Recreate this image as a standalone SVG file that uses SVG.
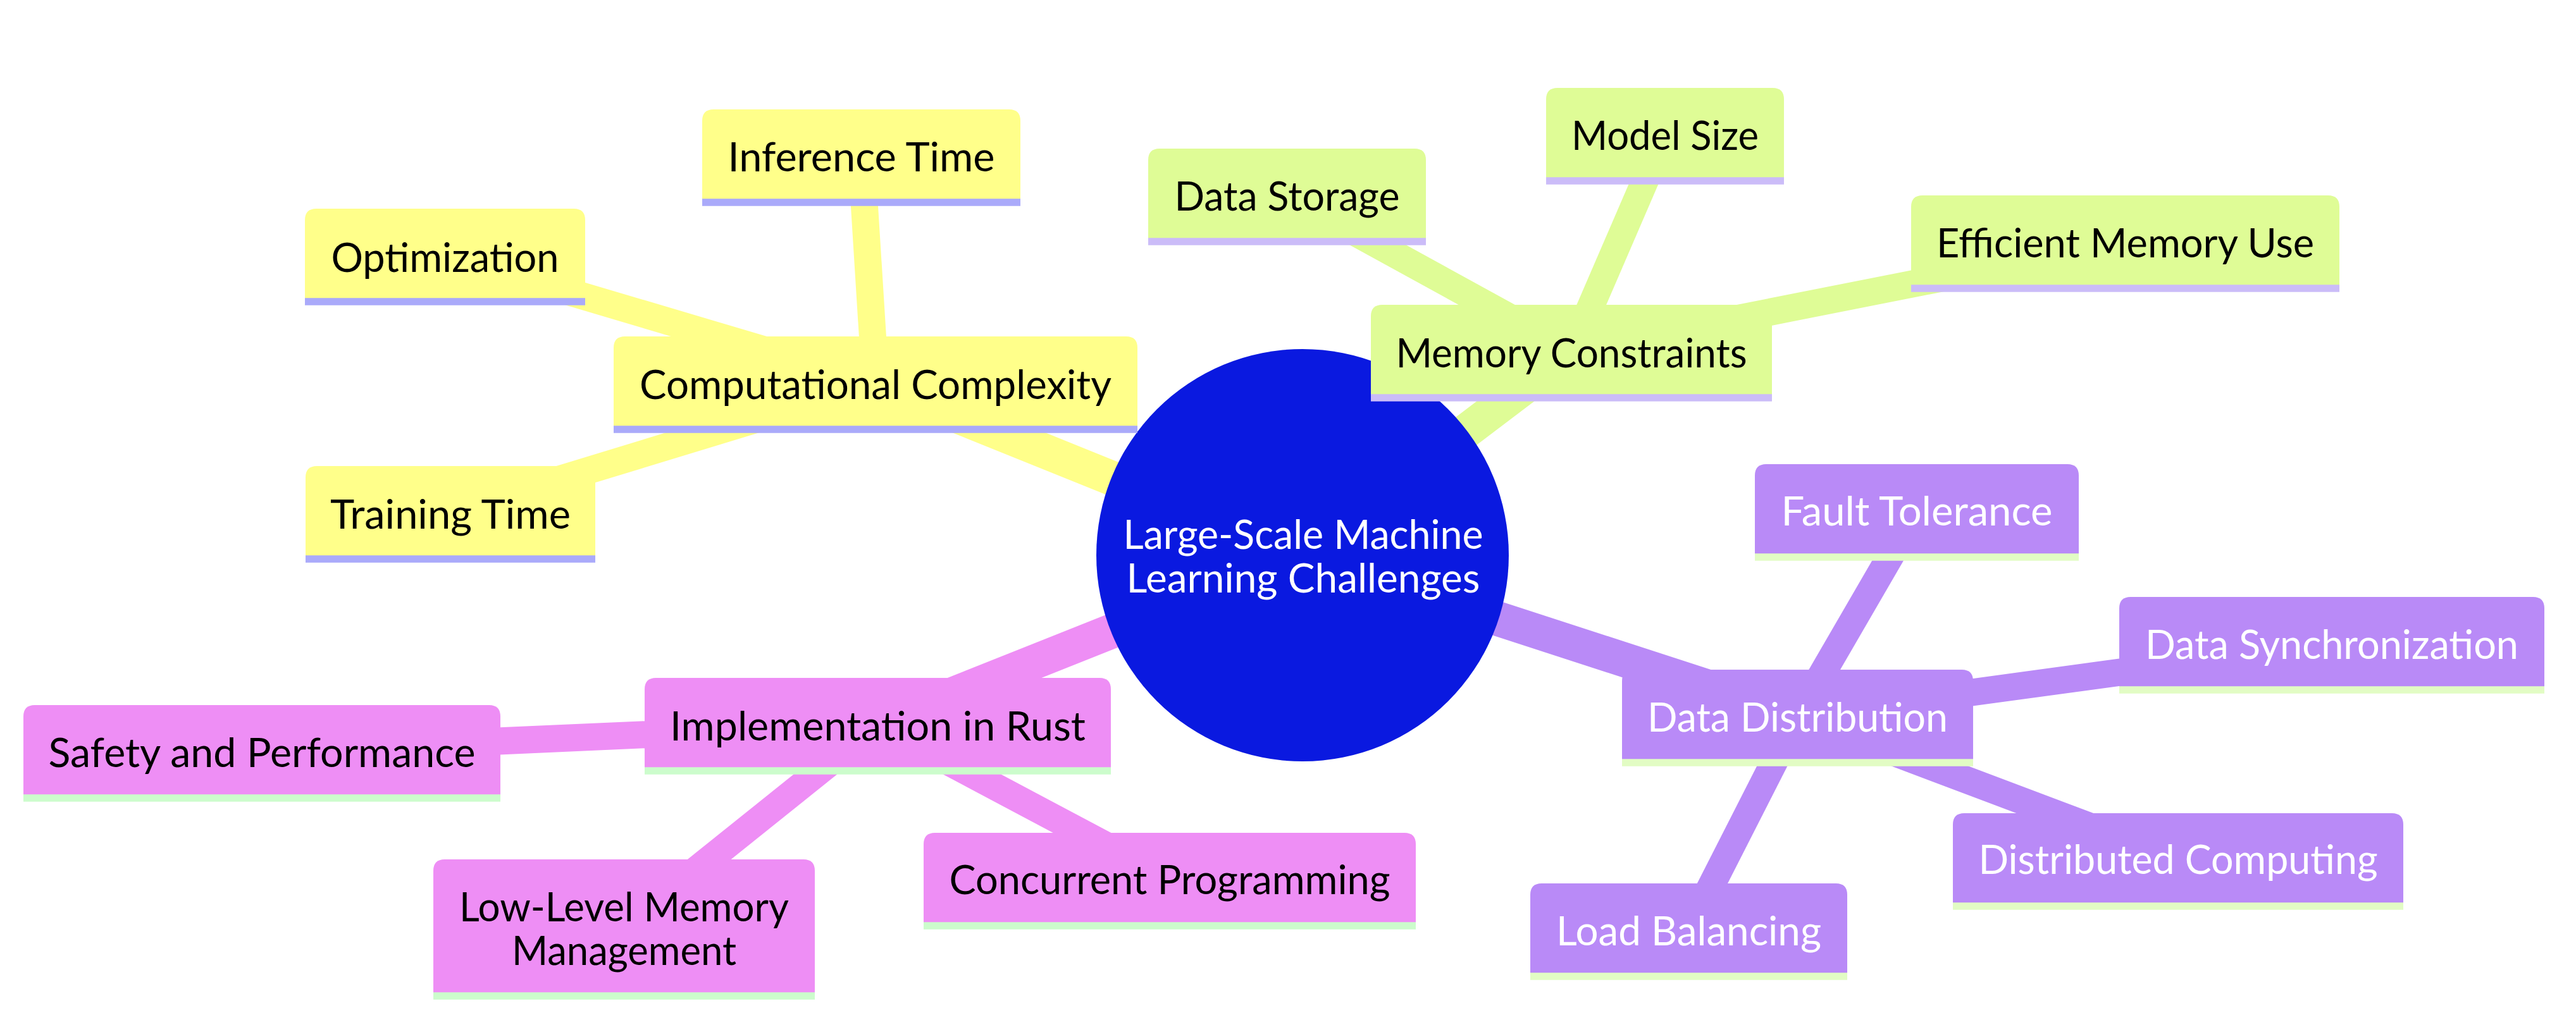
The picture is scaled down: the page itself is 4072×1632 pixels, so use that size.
<svg xmlns="http://www.w3.org/2000/svg" width="4072" height="1632" viewBox="0 0 4072 1632">
<style>
.bg{fill:#ffffff}
.e0{stroke-width:55;fill:none;stroke-linecap:butt}
.e1{stroke-width:43;fill:none;stroke-linecap:butt}
.c0{stroke:#ffff8a}.c1{stroke:#dffc96}.c2{stroke:#b98af7}.c3{stroke:#ee8ef5}
.f0{fill:#ffff8a}.f1{fill:#dffc96}.f2{fill:#b98af7}.f3{fill:#ee8ef5}
.l0{stroke:#aaaafa;stroke-width:11.6}.l1{stroke:#cbbcf8;stroke-width:11.6}.l2{stroke:#e2fcc4;stroke-width:11.6}.l3{stroke:#ccfccc;stroke-width:11.6}
text{font-family:Lato,"Open Sans","DejaVu Sans",sans-serif;font-size:63px;text-anchor:middle}
.dk{fill:#000000}.wt{fill:#ffffff}
</style>
<rect class="bg" x="0" y="0" width="4072" height="1632"/>
<g id="connectors">
  <line class="e0 c0" x1="2059" y1="878" x2="1384" y2="605.5"/>
  <line class="e0 c1" x1="2059" y1="878" x2="2484" y2="555.5"/>
  <line class="e0 c2" x1="2059" y1="878" x2="2841.5" y2="1132.5"/>
  <line class="e0 c3" x1="2059" y1="878" x2="1387.5" y2="1145.5"/>
  <line class="e1 c0" x1="1384" y1="605.5" x2="1361.5" y2="246.5"/>
  <line class="e1 c0" x1="1384" y1="605.5" x2="703.5" y2="403.5"/>
  <line class="e1 c0" x1="1384" y1="605.5" x2="712" y2="810.5"/>
  <line class="e1 c1" x1="2484" y1="555.5" x2="2632" y2="212.5"/>
  <line class="e1 c1" x1="2484" y1="555.5" x2="2034.5" y2="308.5"/>
  <line class="e1 c1" x1="2484" y1="555.5" x2="3359.5" y2="382.5"/>
  <line class="e1 c3" x1="1387.5" y1="1145.5" x2="414" y2="1188.5"/>
  <line class="e1 c3" x1="1387.5" y1="1145.5" x2="986.5" y2="1467"/>
  <line class="e1 c3" x1="1387.5" y1="1145.5" x2="1849" y2="1390.5"/>
  <line class="e1 c2" x1="2841.5" y1="1132.5" x2="3030" y2="807.5"/>
  <line class="e1 c2" x1="2841.5" y1="1132.5" x2="3686" y2="1017.5"/>
  <line class="e1 c2" x1="2841.5" y1="1132.5" x2="3443" y2="1359.5"/>
  <line class="e1 c2" x1="2841.5" y1="1132.5" x2="2669.5" y2="1470.5"/>
</g>
<g id="root">
  <circle cx="2059" cy="878" r="326" fill="#0a19e0"/>
  <text class="wt" x="2060" y="868" textLength="569" lengthAdjust="spacingAndGlyphs">Large-Scale Machine</text>
  <text class="wt" x="2060" y="937" textLength="559" lengthAdjust="spacingAndGlyphs">Learning Challenges</text>
</g>
<g id="computational-complexity">
  <path class="f0" d="M970,679 V550 Q970,532 988,532 H1780 Q1798,532 1798,550 V679 Z"/>
  <line class="l0" x1="970" y1="679" x2="1798" y2="679"/>
  <text class="dk" x="1384" y="631" textLength="746" lengthAdjust="spacingAndGlyphs">Computational Complexity</text>
</g>
<g id="inference-time">
  <path class="f0" d="M1110,320 V191 Q1110,173 1128,173 H1595 Q1613,173 1613,191 V320 Z"/>
  <line class="l0" x1="1110" y1="320" x2="1613" y2="320"/>
  <text class="dk" x="1361.5" y="271" textLength="422" lengthAdjust="spacingAndGlyphs">Inference Time</text>
</g>
<g id="optimization">
  <path class="f0" d="M482,477 V348 Q482,330 500,330 H907 Q925,330 925,348 V477 Z"/>
  <line class="l0" x1="482" y1="477" x2="925" y2="477"/>
  <text class="dk" x="703.5" y="430" textLength="360" lengthAdjust="spacingAndGlyphs">Optimization</text>
</g>
<g id="training-time">
  <path class="f0" d="M483,884 V755 Q483,737 501,737 H923 Q941,737 941,755 V884 Z"/>
  <line class="l0" x1="483" y1="884" x2="941" y2="884"/>
  <text class="dk" x="712" y="836" textLength="380" lengthAdjust="spacingAndGlyphs">Training Time</text>
</g>
<g id="memory-constraints">
  <path class="f1" d="M2167,629 V500 Q2167,482 2185,482 H2783 Q2801,482 2801,500 V629 Z"/>
  <line class="l1" x1="2167" y1="629" x2="2801" y2="629"/>
  <text class="dk" x="2484" y="581" textLength="555" lengthAdjust="spacingAndGlyphs">Memory Constraints</text>
</g>
<g id="model-size">
  <path class="f1" d="M2444,286 V157 Q2444,139 2462,139 H2802 Q2820,139 2820,157 V286 Z"/>
  <line class="l1" x1="2444" y1="286" x2="2820" y2="286"/>
  <text class="dk" x="2632" y="237" textLength="296" lengthAdjust="spacingAndGlyphs">Model Size</text>
</g>
<g id="data-storage">
  <path class="f1" d="M1815,382 V253 Q1815,235 1833,235 H2236 Q2254,235 2254,253 V382 Z"/>
  <line class="l1" x1="1815" y1="382" x2="2254" y2="382"/>
  <text class="dk" x="2034.5" y="333" textLength="356" lengthAdjust="spacingAndGlyphs">Data Storage</text>
</g>
<g id="efficient-memory-use">
  <path class="f1" d="M3021,456 V327 Q3021,309 3039,309 H3680 Q3698,309 3698,327 V456 Z"/>
  <line class="l1" x1="3021" y1="456" x2="3698" y2="456"/>
  <text class="dk" x="3359.5" y="407" textLength="597" lengthAdjust="spacingAndGlyphs">Efficient Memory Use</text>
</g>
<g id="implementation-in-rust">
  <path class="f3" d="M1019,1219 V1090 Q1019,1072 1037,1072 H1738 Q1756,1072 1756,1090 V1219 Z"/>
  <line class="l3" x1="1019" y1="1219" x2="1756" y2="1219"/>
  <text class="dk" x="1387.5" y="1171" textLength="657" lengthAdjust="spacingAndGlyphs">Implementation in Rust</text>
</g>
<g id="safety-and-performance">
  <path class="f3" d="M37,1262 V1133 Q37,1115 55,1115 H773 Q791,1115 791,1133 V1262 Z"/>
  <line class="l3" x1="37" y1="1262" x2="791" y2="1262"/>
  <text class="dk" x="414" y="1213" textLength="675" lengthAdjust="spacingAndGlyphs">Safety and Performance</text>
</g>
<g id="low-level-memory-management">
  <path class="f3" d="M685,1575 V1377 Q685,1359 703,1359 H1270 Q1288,1359 1288,1377 V1575 Z"/>
  <line class="l3" x1="685" y1="1575" x2="1288" y2="1575"/>
  <text class="dk" x="986.5" y="1457" textLength="521" lengthAdjust="spacingAndGlyphs">Low-Level Memory</text>
  <text class="dk" x="986.5" y="1526" textLength="355" lengthAdjust="spacingAndGlyphs">Management</text>
</g>
<g id="concurrent-programming">
  <path class="f3" d="M1460,1464 V1335 Q1460,1317 1478,1317 H2220 Q2238,1317 2238,1335 V1464 Z"/>
  <line class="l3" x1="1460" y1="1464" x2="2238" y2="1464"/>
  <text class="dk" x="1849" y="1414" textLength="697" lengthAdjust="spacingAndGlyphs">Concurrent Programming</text>
</g>
<g id="data-distribution">
  <path class="f2" d="M2564,1206 V1077 Q2564,1059 2582,1059 H3101 Q3119,1059 3119,1077 V1206 Z"/>
  <line class="l2" x1="2564" y1="1206" x2="3119" y2="1206"/>
  <text class="wt" x="2841.5" y="1157" textLength="475" lengthAdjust="spacingAndGlyphs">Data Distribution</text>
</g>
<g id="fault-tolerance">
  <path class="f2" d="M2774,881 V752 Q2774,734 2792,734 H3268 Q3286,734 3286,752 V881 Z"/>
  <line class="l2" x1="2774" y1="881" x2="3286" y2="881"/>
  <text class="wt" x="3030" y="831" textLength="429" lengthAdjust="spacingAndGlyphs">Fault Tolerance</text>
</g>
<g id="data-synchronization">
  <path class="f2" d="M3350,1091 V962 Q3350,944 3368,944 H4004 Q4022,944 4022,962 V1091 Z"/>
  <line class="l2" x1="3350" y1="1091" x2="4022" y2="1091"/>
  <text class="wt" x="3686" y="1042" textLength="590" lengthAdjust="spacingAndGlyphs">Data Synchronization</text>
</g>
<g id="distributed-computing">
  <path class="f2" d="M3087,1433 V1304 Q3087,1286 3105,1286 H3781 Q3799,1286 3799,1304 V1433 Z"/>
  <line class="l2" x1="3087" y1="1433" x2="3799" y2="1433"/>
  <text class="wt" x="3443" y="1382" textLength="631" lengthAdjust="spacingAndGlyphs">Distributed Computing</text>
</g>
<g id="load-balancing">
  <path class="f2" d="M2419,1544 V1415 Q2419,1397 2437,1397 H2902 Q2920,1397 2920,1415 V1544 Z"/>
  <line class="l2" x1="2419" y1="1544" x2="2920" y2="1544"/>
  <text class="wt" x="2669.5" y="1495" textLength="419" lengthAdjust="spacingAndGlyphs">Load Balancing</text>
</g>
</svg>
